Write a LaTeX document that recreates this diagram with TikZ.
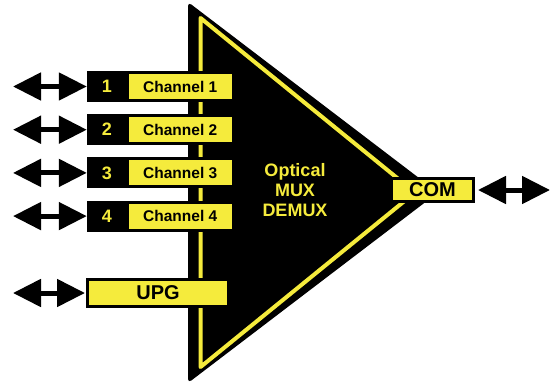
\documentclass[tikz,border=0pt]{standalone}
\usepackage{fontspec}
\setmainfont{Liberation Sans}
\usetikzlibrary{arrows.meta}
\definecolor{myyellow}{RGB}{245,235,60}
\begin{document}
\begin{tikzpicture}[x=1pt,y=-1pt,
  blackbox/.style={fill=black, minimum width=147pt, minimum height=31pt, inner sep=0pt},
  yelbox/.style={fill=myyellow, minimum width=102.5pt, minimum height=25pt, inner sep=0pt, font=\fontsize{15.5}{18}\selectfont\bfseries},
  numlbl/.style={text=myyellow, font=\fontsize{18}{20}\selectfont\bfseries, inner sep=0pt},
  portbox/.style={fill=myyellow, draw=black, line width=3pt, inner sep=0pt, font=\fontsize{20}{22}\selectfont\bfseries},
  dblarrow/.style={line width=5pt, {Triangle[length=28pt,width=27pt]}-{Triangle[length=28pt,width=27pt]}}
]
\useasboundingbox (0,0) rectangle (553,385);
% triangle body
\fill[black, rounded corners=4pt] (188,2) -- (438,192.5) -- (188,383) -- cycle;
\draw[myyellow, line width=4pt, line join=round] (200.5,18) -- (415,192.5) -- (200.5,367) -- cycle;
\node[text=myyellow, align=center, font=\fontsize{18}{20}\selectfont\bfseries] (mux) at (295,190) {Optical\\MUX\\DEMUX};
% channels
\foreach \i/\y in {1/86.5,2/129.7,3/172.9,4/216.1} {
  \node[blackbox] (b\i) at (160.5,\y) {};
  \node[yelbox] (c\i) at (180.25,\y) {Channel \i};
  \node[numlbl] (n\i) at (107,\y) {\i};
  \coordinate (a\i) at (13,\y);
  \draw[dblarrow] (a\i) -- (b\i.west);
}
% UPG
\node[portbox, minimum width=141pt, minimum height=27pt] (upg) at (158,293) {UPG};
\coordinate (au) at (13,293);
\draw[dblarrow] (au) -- ([xshift=-1pt]upg.west);
% COM
\node[portbox, minimum width=82pt, minimum height=23pt] (com) at (432.5,190) {COM};
\coordinate (ac) at (550,190);
\draw[dblarrow] ([xshift=3pt]com.east) -- (ac);
\end{tikzpicture}
\end{document}
